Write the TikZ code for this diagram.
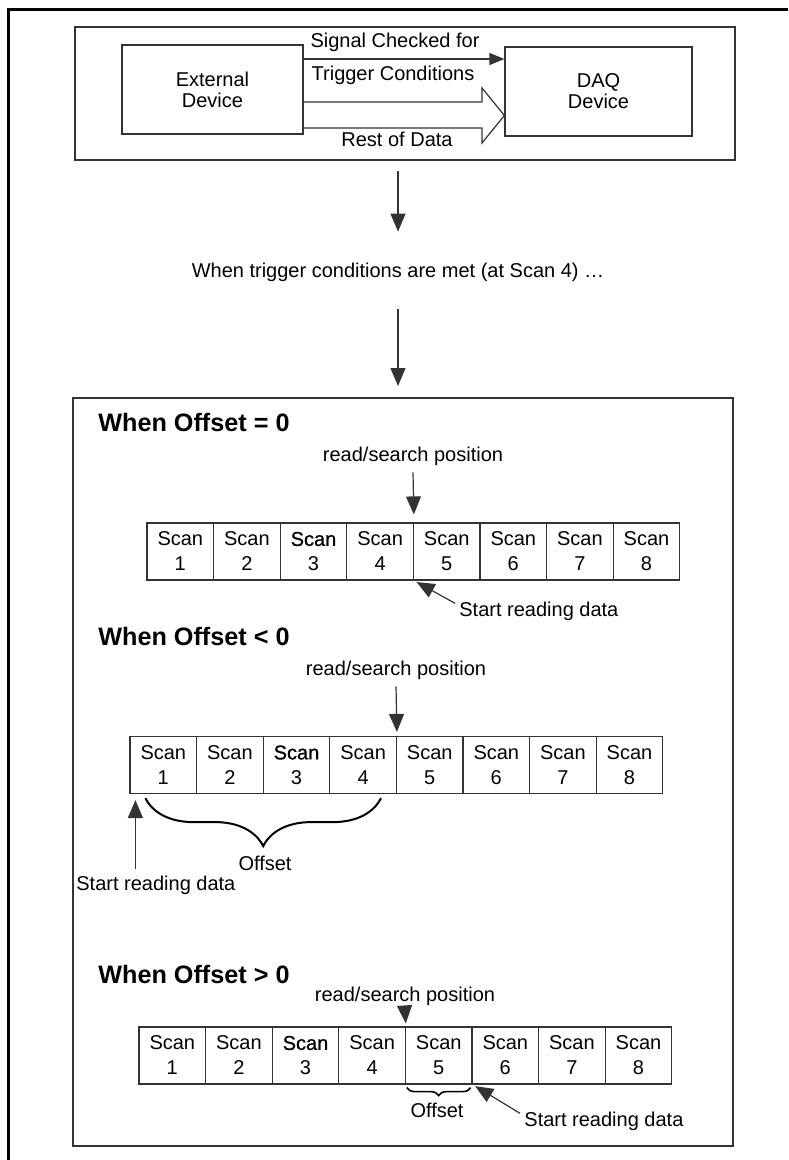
\documentclass[tikz,border=0pt]{standalone}
\usepackage{fontspec}
\setmainfont{Liberation Sans}
\newfontfamily\scanbf[FakeBold=0.8]{Liberation Sans}
\usetikzlibrary{arrows.meta, calc, decorations.pathreplacing}

\newcommand{\scanword}[1]{\ifnum#1=3 {\scanbf Scan}\else Scan\fi}

\tikzset{
  box/.style={draw=black!80, line width=0.6pt},
  devbox/.style={box, minimum height=44.5pt, inner sep=0pt, align=center, font=\fontsize{10}{10.5}\selectfont},
  flow/.style={draw=black!80, line width=0.6pt, -{Triangle[length=9pt, width=7.5pt]}},
  scanbox/.style={box, minimum width=33.3pt, minimum height=28.5pt, inner sep=0pt, align=center, font=\fontsize{10}{12.5}\selectfont},
  heading/.style={anchor=west, inner sep=0pt, font=\fontsize{12.6}{14}\selectfont\bfseries},
  note/.style={anchor=west, inner sep=0pt},
  offbrace/.style={decorate, line width=1pt},
}

\begin{document}
\begin{tikzpicture}[x=0.5pt, y=-0.5pt, font=\fontsize{10}{12}\selectfont]
  \useasboundingbox (0,0) rectangle (788,1160);

  % cadre exterieur (coupe a droite et en bas)
  \draw[line width=1.5pt] (8.5,1160) -- (8.5,9.5) -- (788,9.5);

  % External Device -> DAQ Device
  \draw[box] (75,27) rectangle (735,160);
  \node[devbox, minimum width=90.5pt] (ext) at (212.5,89.5) {External\\Device};
  \node[devbox, minimum width=93.5pt] (daq) at (598.5,91.5) {DAQ\\Device};
  \draw[box, -{Triangle[length=7.5pt, width=6pt]}] ($(ext.east)+(0,-30.5)$) -- ($(daq.west)+(0,-32.5)$);
  \node (chk) at (395,42) {Signal Checked for};
  \node (cond) at (393,75) {Trigger Conditions};
  \draw[box] ($(ext.east)+(0,12.5)$) -- (482,102) -- (482,88) -- ($(daq.west)+(0,24)$)
    -- (482,143) -- (482,128) -- ($(ext.east)+(0,38.5)$);
  \node (rest) at (397,139) {Rest of Data};

  % trigger
  \node (trig) at (398,272) {When trigger conditions are met (at Scan 4) \ldots};
  \coordinate (top) at (398,171);
  \coordinate (bot) at (398,309);
  \draw[flow] (top) -- ([yshift=12pt]trig.north);
  \draw[flow] (bot) -- ++(0,77);
  \draw[box] (73,398) rectangle (733,1146);

  % Offset = 0
  \node[heading] (h0) at (98,422) {When Offset = 0};
  \node (rs0) at (413,456) {read/search position};
  \foreach \i in {1,...,8}
    \node[scanbox] (a\i) at ({147+66.6*(\i-0.5)},551.5) {\scanword{\i}\\\i};
  \draw[flow, shorten >=4pt] (rs0.south) -- (a4.north east);
  \node[note] (st0) at (459,611) {Start reading data};
  \draw[flow, shorten >=1.5pt] ([xshift=-2pt, yshift=-1pt]st0.north west) -- (a4.south east);

  % Offset < 0
  \node[heading] (h1) at (98,636) {When Offset < 0};
  \node (rs1) at (396,670) {read/search position};
  \foreach \i in {1,...,8}
    \node[scanbox] (b\i) at ({130+66.6*(\i-0.5)},765) {\scanword{\i}\\\i};
  \draw[flow, shorten >=2pt] (rs1.south) -- (b4.north east);
  \draw[offbrace, decoration={brace, mirror, amplitude=24pt}]
    ([xshift=8pt, yshift=-2pt]b1.south west) -- ([xshift=-8pt, yshift=-2pt]b4.south east);
  \node (off1) at (265,863) {Offset};
  \node[note] (st1) at (76,885) {Start reading data};
  \draw[flow] ([xshift=3pt, yshift=3pt]b1.south west |- st1.north) -- ([xshift=3pt, yshift=-3pt]b1.south west);

  % Offset > 0
  \node[heading] (h2) at (98,974) {When Offset > 0};
  \node (rs2) at (405,996) {read/search position};
  \foreach \i in {1,...,8}
    \node[scanbox] (c\i) at ({139+66.6*(\i-0.5)},1055.5) {\scanword{\i}\\\i};
  \draw[flow, shorten >=1.5pt] (rs2.south) -- (c4.north east);
  \draw[offbrace, line width=0.8pt, decoration={brace, mirror, amplitude=4pt}]
    ([xshift=1pt, yshift=-1.5pt]c5.south west) -- ([xshift=-1pt, yshift=-1.5pt]c5.south east);
  \node (off2) at (437,1110) {Offset};
  \node[note] (st2) at (524,1121) {Start reading data};
  \draw[flow, shorten >=1.5pt] ([xshift=-2pt, yshift=-1pt]st2.north west) -- (c5.south east);
\end{tikzpicture}
\end{document}
